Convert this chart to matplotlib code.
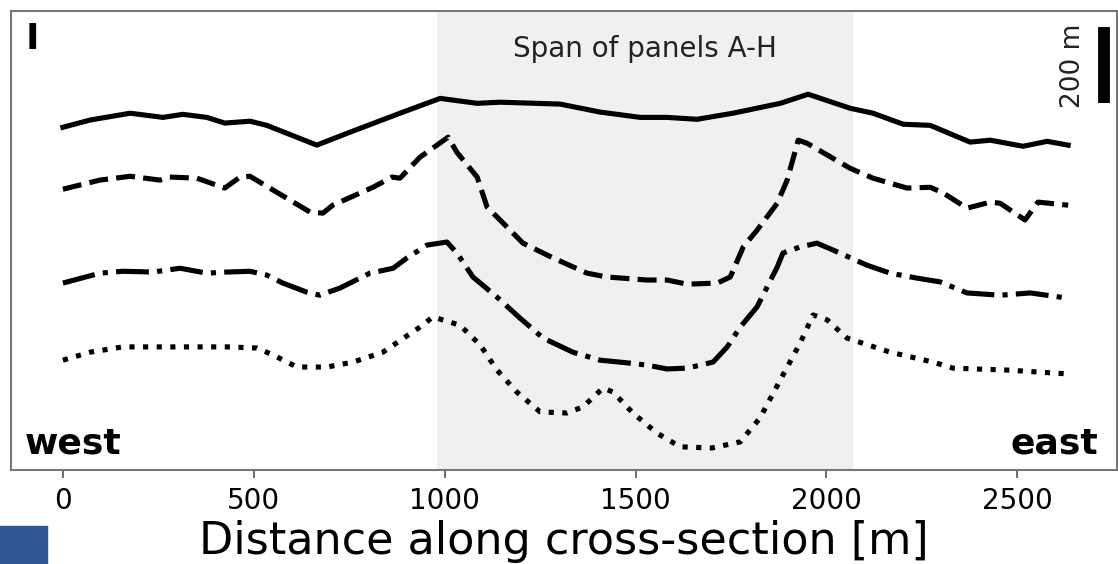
import numpy as np
import matplotlib.pyplot as plt
from matplotlib.patches import Rectangle

# profiles: distance along section [m] and relative height [m]
solid_x = [0, 71, 176, 262, 314, 377, 424, 490, 534, 665, 744, 883, 988, 1085, 1145, 1302,
           1407, 1512, 1582, 1661, 1755, 1879, 1952, 2062, 2122, 2201, 2272, 2376, 2429,
           2515, 2578, 2633]
solid_y = [894, 913, 931, 920, 928, 920, 905, 910, 899, 847, 878, 931, 970, 957, 960, 955,
           934, 920, 920, 915, 931, 957, 981, 944, 931, 902, 899, 855, 860, 844, 857, 847]

dash_x = [0, 97, 176, 254, 280, 351, 424, 464, 490, 550, 647, 681, 707, 812, 862, 883, 935,
          1009, 1032, 1085, 1111, 1145, 1205, 1284, 1373, 1425, 1530, 1582, 1635, 1714, 1748,
          1782, 1818, 1871, 1897, 1926, 1949, 2062, 2122, 2211, 2272, 2306, 2368, 2429, 2455,
          2520, 2554, 2633]
dash_y = [731, 755, 765, 755, 763, 760, 734, 763, 765, 729, 671, 668, 689, 736, 763, 760, 815,
          868, 828, 763, 684, 650, 589, 550, 510, 500, 492, 492, 481, 484, 500, 579, 623, 694,
          755, 860, 852, 786, 760, 734, 736, 721, 681, 697, 694, 650, 697, 689]

dashdot_x = [0, 97, 157, 236, 307, 377, 430, 490, 534, 576, 639, 673, 726, 804, 865, 901, 954,
             1006, 1032, 1074, 1137, 1197, 1258, 1336, 1407, 1478, 1530, 1582, 1635, 1703, 1740,
             1774, 1818, 1871, 1886, 1931, 1975, 2017, 2106, 2167, 2237, 2298, 2368, 2455, 2534,
             2633]
dashdot_y = [484, 510, 515, 513, 523, 510, 513, 515, 505, 484, 460, 452, 471, 510, 523, 550, 584,
             592, 563, 500, 447, 392, 339, 302, 281, 274, 268, 258, 260, 276, 316, 368, 421, 526,
             563, 579, 589, 571, 531, 510, 497, 487, 458, 452, 458, 444]

dot_x = [0, 71, 157, 288, 430, 508, 550, 613, 692, 760, 838, 935, 969, 1040, 1093, 1137, 1189,
         1250, 1320, 1362, 1415, 1441, 1493, 1556, 1617, 1700, 1774, 1826, 1879, 1931, 1965,
         2002, 2054, 2167, 2279, 2332, 2473, 2552, 2630]
dot_y = [281, 302, 316, 316, 316, 313, 295, 263, 263, 276, 302, 368, 395, 373, 321, 255, 197,
         145, 142, 158, 208, 197, 142, 89, 53, 50, 66, 129, 229, 326, 400, 387, 339, 302, 276,
         260, 255, 250, 245]

span = (980, 2070)
scale_x = 2727
scale_y = (957, 1157)
ticks = [0, 500, 1000, 1500, 2000, 2500]

fig = plt.figure(figsize=(11.18, 5.64), dpi=100)
ax = fig.add_axes([11 / 1118, 1 - 470 / 564, 1106 / 1118, 459 / 564])

ax.axvspan(span[0], span[1], color='#f0f0f0', zorder=0, lw=0)
lw = 3.7
ax.plot(solid_x, solid_y, color='black', lw=lw, ls='-')
ax.plot(dash_x, dash_y, color='black', lw=lw, ls='--')
ax.plot(dashdot_x, dashdot_y, color='black', lw=lw, ls='-.')
ax.plot(dot_x, dot_y, color='black', lw=lw, ls=':')

# scale bar
ax.plot([scale_x, scale_x], scale_y, color='black', lw=8.5, solid_capstyle='butt')
ax.text(scale_x - 82, np.mean(scale_y), '200 m', rotation=90, fontsize=19,
        color='#222222', ha='center', va='center')

ax.text(sum(span) / 2, 1099, 'Span of panels A-H', fontsize=20, color='#222222',
        ha='center', va='center')
ax.text(0.013, 0.975, 'I', transform=ax.transAxes, fontsize=26, fontweight='bold',
        ha='left', va='top')
ax.text(0.012, 0.02, 'west', transform=ax.transAxes, fontsize=26, fontweight='bold',
        ha='left', va='bottom')
ax.text(0.983, 0.02, 'east', transform=ax.transAxes, fontsize=26, fontweight='bold',
        ha='right', va='bottom')

ax.set_xlim(-136, 2761)
ax.set_ylim(-8, 1200)
ax.set_xticks(ticks)
ax.set_yticks([])
ax.tick_params(axis='x', labelsize=20, length=6, width=1.2, color='#555555', pad=6)
for sp in ax.spines.values():
    sp.set_color('#777777')
    sp.set_linewidth(1.5)
ax.set_xlabel('Distance along cross-section [m]', fontsize=32, labelpad=4)

# blue block in the lower left corner
fig.patches.append(Rectangle((0, 0), 47 / 1118, 38 / 564, transform=fig.transFigure,
                             color='#2f5597', zorder=-1))

fig.savefig('out.png', dpi=100)
